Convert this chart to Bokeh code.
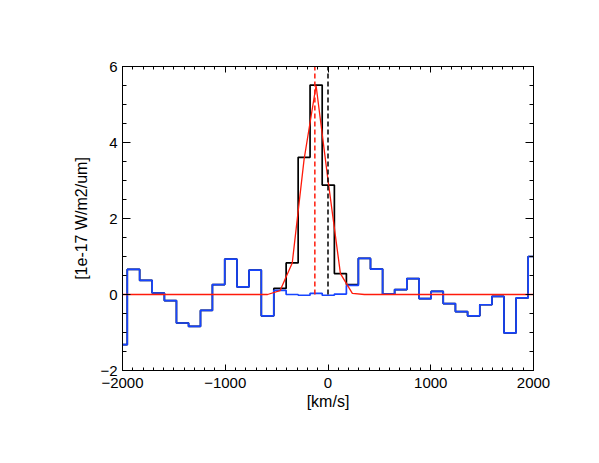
from bokeh.plotting import figure
from bokeh.models import Range1d, LinearAxis, SingleIntervalTicker, CustomJSTickFormatter
from bokeh.embed import file_html
from bokeh.resources import INLINE

# bin centres [km/s]
velocity = [-2013, -1894, -1772, -1651, -1534, -1416, -1298, -1184, -1066, -944,
            -828, -710, -588, -467, -348, -233, -116, 3, 121, 237,
            354, 473, 590, 707, 828, 946, 1062, 1181, 1299, 1418,
            1537, 1654, 1771, 1890, 2006]

# observed spectrum [1e-17 W/m2/um] (black)
flux = [-1.32, 0.66, 0.37, 0.04, -0.16, -0.75, -0.84, -0.42, 0.26, 0.93,
        0.20, 0.64, -0.56, 0.16, 0.83, 3.61, 5.51, 2.88, 0.55, 0.26,
        0.95, 0.67, 0.01, 0.13, 0.42, -0.11, 0.08, -0.24, -0.45, -0.56,
        -0.27, -0.05, -1.01, -0.09, 1.00]

# residual (blue)
residual = [-1.32, 0.66, 0.37, 0.04, -0.16, -0.75, -0.84, -0.42, 0.26, 0.93,
            0.20, 0.64, -0.56, 0.11, 0.00, -0.02, 0.03, -0.02, 0.01, 0.24,
            0.95, 0.67, 0.01, 0.13, 0.42, -0.11, 0.08, -0.24, -0.45, -0.56,
            -0.27, -0.05, -1.01, -0.09, 1.00]

# gaussian fit (red)
fit = [0, 0, 0, 0, 0, 0, 0, 0, 0, 0,
       0, 0, 0, 0.10, 0.83, 3.55, 5.50, 2.95, 0.55, 0.03,
       0, 0, 0, 0, 0, 0, 0, 0, 0, 0,
       0, 0, 0, 0, 0]

fit_centre = [-128]
systemic = [0]
marker_bottom = [0]
marker_top = [6]

FONT = "Liberation Sans"
MINUS = "\u2212"

p = figure(width=583, height=447, output_backend="svg", toolbar_location=None,
           x_range=Range1d(-2000, 2000), y_range=Range1d(-2, 6),
           x_axis_location=None, y_axis_location=None,
           min_border_left=122, min_border_right=50,
           min_border_top=66, min_border_bottom=77)
p.outline_line_color = "black"
p.outline_line_width = 1
p.background_fill_color = "white"
p.border_fill_color = "white"
p.xgrid.visible = False
p.ygrid.visible = False

fmt_code = "return tick < 0 ? '" + MINUS + "' + Math.abs(tick) : String(tick);"


def make_axis(kind, labels):
    if kind == "x":
        ax = LinearAxis(ticker=SingleIntervalTicker(interval=1000, num_minor_ticks=10))
        ax.major_tick_in = 6
        ax.minor_tick_in = 3
        ax.major_label_standoff = 7
    else:
        ax = LinearAxis(ticker=SingleIntervalTicker(interval=2, num_minor_ticks=4))
        ax.major_tick_in = 8
        ax.minor_tick_in = 4
        ax.major_label_standoff = 5
    ax.major_tick_out = 0
    ax.minor_tick_out = 0
    ax.axis_line_color = "black"
    ax.major_tick_line_color = "black"
    ax.minor_tick_line_color = "black"
    ax.major_tick_line_width = 1
    ax.minor_tick_line_width = 1
    ax.axis_line_width = 1
    ax.major_label_text_font = FONT
    ax.major_label_text_font_size = "15px"
    ax.major_label_text_color = "black"
    ax.formatter = CustomJSTickFormatter(code=fmt_code)
    if not labels:
        ax.major_label_text_alpha = 0
    return ax


xb = make_axis("x", True)
xb.axis_label = "[km/s]"
xb.axis_label_text_font = FONT
xb.axis_label_text_font_size = "16px"
xb.axis_label_text_font_style = "normal"
xb.axis_label_text_color = "black"
xb.axis_label_standoff = 2
p.add_layout(xb, "below")

yl = make_axis("y", True)
yl.axis_label = "[1e-17 W/m2/um]"
yl.axis_label_text_font = FONT
yl.axis_label_text_font_size = "16px"
yl.axis_label_text_font_style = "normal"
yl.axis_label_text_color = "black"
yl.axis_label_standoff = 7
p.add_layout(yl, "left")

p.add_layout(make_axis("x", False), "above")
p.add_layout(make_axis("y", False), "right")

p.step(velocity, flux, mode="center", line_color="black", line_width=1.7)
p.step(velocity, residual, mode="center", line_color="#1745ff", line_width=1.7)
p.line(velocity, fit, line_color="#ff1a0a", line_width=1.3)

p.segment(x0=systemic, y0=marker_bottom, x1=systemic, y1=marker_top,
          line_color="black", line_width=1.5, line_dash="5 3")
p.segment(x0=fit_centre, y0=marker_bottom, x1=fit_centre, y1=marker_top,
          line_color="#ff1a0a", line_width=1.5, line_dash="5 3")

open("out.html", "w").write(file_html(p, INLINE))
